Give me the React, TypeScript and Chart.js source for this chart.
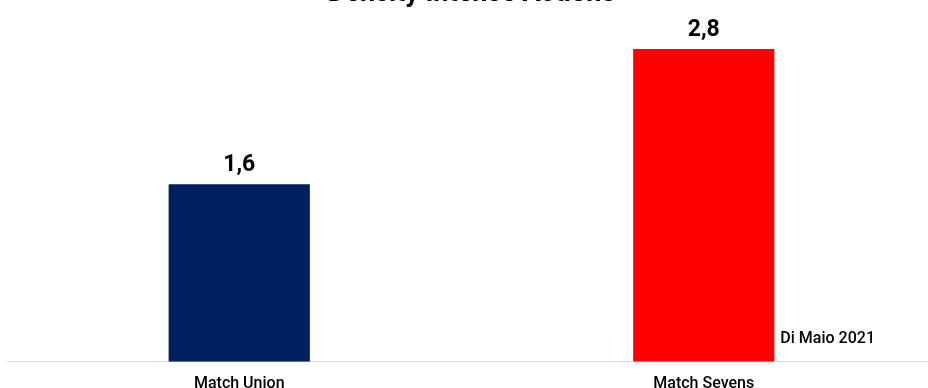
import React, { useEffect, useRef } from "react";
import { Chart, registerables } from "chart.js";

Chart.register(...registerables);

const categories = ["Match Union", "Match Sevens"];
const values = [1.6, 2.82];
const barColors = ["#002060", "#FF0000"];
const titleText = "Density Intense Actions";
const sourceNote = "Di Maio 2021";

const FONT = "Roboto, 'Noto Sans', sans-serif";

const labelPlugin = {
  id: "valueLabels",
  afterDatasetsDraw(chart: any) {
    const ctx = chart.ctx;
    const meta = chart.getDatasetMeta(0);
    ctx.save();
    ctx.fillStyle = "#000";
    ctx.font = `bold 23px ${FONT}`;
    ctx.textAlign = "center";
    ctx.textBaseline = "alphabetic";
    meta.data.forEach((bar: any, i: number) => {
      const txt = values[i].toFixed(1).replace(".", ",");
      ctx.fillText(txt, bar.x, bar.y - 13);
    });
    const last: any = meta.data[meta.data.length - 1];
    if (last) {
      ctx.font = `500 16px ${FONT}`;
      ctx.textAlign = "left";
      ctx.fillText(sourceNote, last.x + last.width / 2 + 6, chart.chartArea.bottom - 19);
    }
    ctx.restore();
  },
};

export default function App() {
  const ref = useRef<HTMLCanvasElement>(null);
  useEffect(() => {
    if (!ref.current) return;
    const chart = new Chart(ref.current, {
      type: "bar",
      data: {
        labels: categories,
        datasets: [
          {
            data: values,
            backgroundColor: barColors,
            borderWidth: 0,
            barPercentage: 0.304,
            categoryPercentage: 1,
          },
        ],
      },
      options: {
        animation: false,
        responsive: true,
        maintainAspectRatio: false,
        layout: { padding: { left: 7, right: 0, top: 0, bottom: 0 } },
        plugins: {
          legend: { display: false },
          tooltip: { enabled: false },
          title: {
            display: true,
            text: titleText,
            color: "#000",
            font: { family: FONT, size: 27, weight: "bold" },
            padding: { top: 7.8, bottom: 18.8 },
          },
        },
        scales: {
          x: {
            grid: { display: false, drawTicks: false },
            border: { display: true, color: "#d9d9d9", width: 1 },
            ticks: {
              color: "#000",
              padding: 13,
              font: { family: FONT, size: 16, weight: "500" },
            },
          },
          y: {
            display: false,
            min: 0,
            max: 3,
          },
        },
      },
      plugins: [labelPlugin],
    });
    return () => chart.destroy();
  }, []);
  return (
    <div style={{ position: "fixed", left: 0, top: -30, width: 936, height: 437, background: "#fff" }}>
      <canvas ref={ref} />
    </div>
  );
}
